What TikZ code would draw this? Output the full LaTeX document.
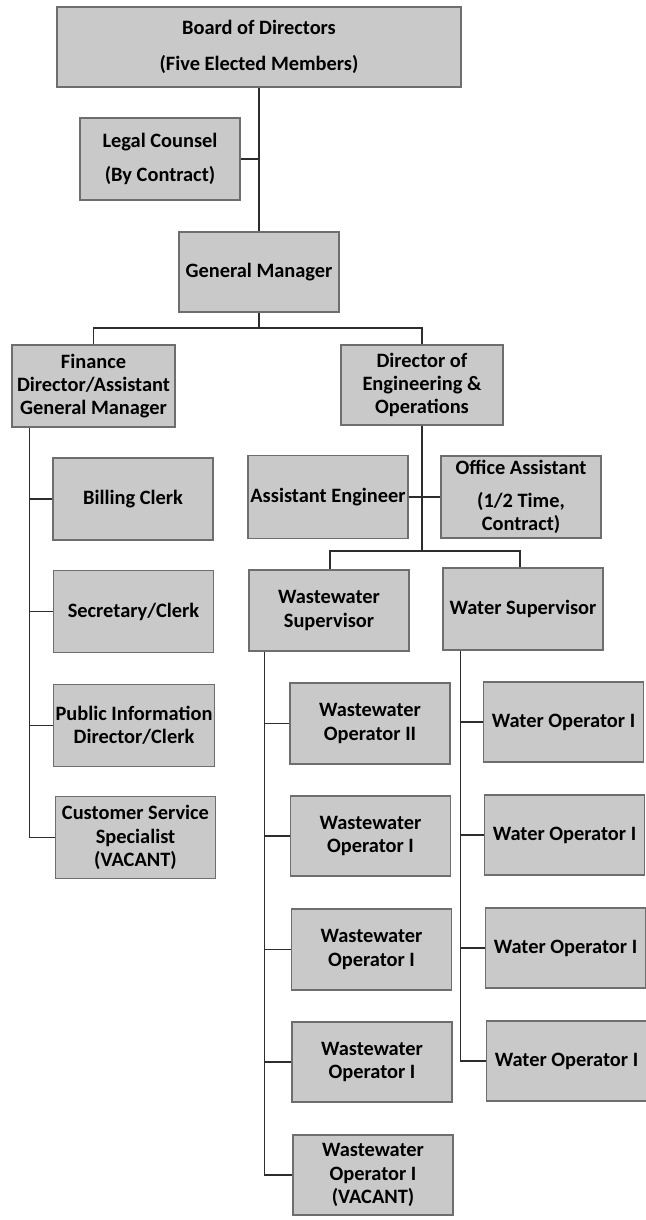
\documentclass[tikz,border=0pt]{standalone}
\usepackage{fontspec}
\setmainfont{Carlito}
\definecolor{boxfill}{RGB}{201,201,201}
\definecolor{boxline}{RGB}{110,110,110}
\definecolor{linkc}{RGB}{45,45,45}
\begin{document}
\begin{tikzpicture}[x=0.5pt,y=-0.5pt,
  pbox/.style={draw=boxline,line width=0.6pt,fill=boxfill,align=center,inner sep=1pt,
    font=\fontsize{10.2}{11.6}\selectfont\bfseries,minimum width=80pt,minimum height=40pt},
  link/.style={draw=linkc,line width=0.75pt}]
\useasboundingbox (0,0) rectangle (646,1220);
% top
\node[pbox,minimum width=202pt] (board) at (259,47) {Board of Directors\\[6.5pt](Five Elected Members)};
\node[pbox,minimum height=41pt] (legal) at (160,159) {Legal Counsel\\[5.5pt](By Contract)};
\node[pbox] (gm) at (259,272) {General Manager};
\node[pbox,minimum width=81.5pt,minimum height=41pt] (fin) at (93.5,386) {Finance\\Director/Assistant\\General Manager};
\node[pbox,minimum width=81pt] (dir) at (422,385) {Director of\\Engineering \&\\Operations};
% finance branch
\node[pbox,minimum height=41pt] (bill) at (133,499) {Billing Clerk};
\node[pbox,minimum height=41pt] (sec) at (133.5,611.5) {Secretary/Clerk};
\node[pbox,minimum height=41pt] (pub) at (134,725.5) {Public Information\\Director/Clerk};
\node[pbox,minimum height=41pt] (cust) at (135.5,837.5) {Customer Service\\Specialist\\(VACANT)};
% engineering branch
\node[pbox,minimum height=41.5pt] (asst) at (328,497) {Assistant Engineer};
\node[pbox,minimum height=41pt] (office) at (521,497) {Office Assistant\\[5pt](1/2 Time,\\Contract)};
\node[pbox,minimum height=40.5pt] (wwsup) at (329,610.5) {Wastewater\\Supervisor};
\node[pbox,minimum height=41pt] (wsup) at (523,609) {Water Supervisor};
% wastewater operators
\node[pbox,minimum height=40.5pt] (ww2) at (370,723.5) {Wastewater\\Operator II};
\node[pbox] (ww1a) at (370.5,836) {Wastewater\\Operator I};
\node[pbox,minimum height=40.5pt] (ww1b) at (371.5,949.5) {Wastewater\\Operator I};
\node[pbox] (ww1c) at (372,1062) {Wastewater\\Operator I};
\node[pbox] (ww1v) at (373,1175) {Wastewater\\Operator I\\(VACANT)};
% water operators
\node[pbox] (wo1) at (563.5,722) {Water Operator I};
\node[pbox] (wo2) at (564.5,835) {Water Operator I};
\node[pbox] (wo3) at (565.5,948) {Water Operator I};
\node[pbox] (wo4) at (566.5,1061) {Water Operator I};
% connectors
\coordinate (gmj) at (259,328);
\coordinate (dirj) at (422,551);
\path[link] (board.south) -- (gm.north);
\path[link] (legal.east) -- (legal.east -| board.south);
\path[link] (gm.south) -- (gmj);
\path[link] (gmj) -| (fin.north);
\path[link] (gmj) -| (dir.north);
\path[link] (dir.south) -- (dirj);
\path[link] (dirj) -| ([xshift=0.5pt]wwsup.north);
\path[link] (dirj) -| ([xshift=-1.5pt]wsup.north);
\path[link] (asst.east) -- (office.west);
% finance spine
\coordinate (fsp) at ([xshift=9pt]fin.south west);
\path[link] (fsp) |- (cust.west);
\path[link] (bill.west) -- (bill.west -| fsp);
\path[link] (sec.west) -- (sec.west -| fsp);
\path[link] (pub.west) -- (pub.west -| fsp);
% wastewater spine
\coordinate (wwsp) at ([xshift=8pt]wwsup.south west);
\path[link] (wwsp) |- (ww1v.west);
\path[link] (ww2.west) -- (ww2.west -| wwsp);
\path[link] (ww1a.west) -- (ww1a.west -| wwsp);
\path[link] (ww1b.west) -- (ww1b.west -| wwsp);
\path[link] (ww1c.west) -- (ww1c.west -| wwsp);
% water spine
\coordinate (wsp) at ([xshift=9pt]wsup.south west);
\path[link] (wsp) |- (wo4.west);
\path[link] (wo1.west) -- (wo1.west -| wsp);
\path[link] (wo2.west) -- (wo2.west -| wsp);
\path[link] (wo3.west) -- (wo3.west -| wsp);
\end{tikzpicture}
\end{document}
